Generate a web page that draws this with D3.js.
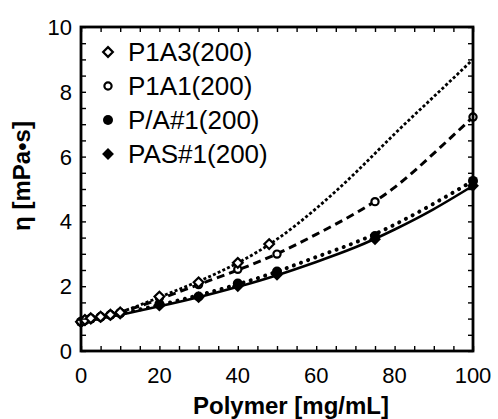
<!DOCTYPE html>
<html><head><meta charset="utf-8">
<script src="https://cdn.jsdelivr.net/npm/d3@7"></script>
<style>body{margin:0;background:#fff}svg{display:block}text{font-family:Arial,"Liberation Sans",sans-serif}</style>
</head><body><svg id="c" width="498" height="419"></svg>
<script>
// ---- data ----
const xTickLabels = [0, 20, 40, 60, 80, 100];
const yTickLabels = [0, 2, 4, 6, 8, 10];
const seriesNames = ["P1A3(200)", "P1A1(200)", "P/A#1(200)", "PAS#1(200)"];

const p1a3X = [0, 1, 2.5, 5, 7.5, 10, 20, 30, 40, 48];
const p1a3Y = [0.9, 0.96, 1.01, 1.06, 1.12, 1.19, 1.68, 2.12, 2.72, 3.3];
const p1a1X = [0, 1, 2.5, 5, 7.5, 10, 20, 30, 40, 50, 75, 100];
const p1a1Y = [0.9, 0.95, 1.0, 1.06, 1.12, 1.18, 1.65, 2.05, 2.52, 2.99, 4.61, 7.22];
const paX = [0, 1, 2.5, 5, 7.5, 10, 20, 30, 40, 50, 75, 100];
const paY = [0.9, 0.95, 1.0, 1.05, 1.11, 1.17, 1.45, 1.68, 2.08, 2.45, 3.55, 5.25];
const pasX = [0, 1, 2.5, 5, 7.5, 10, 20, 30, 40, 50, 75, 100];
const pasY = [0.9, 0.94, 0.99, 1.04, 1.1, 1.15, 1.4, 1.66, 2.0, 2.35, 3.45, 5.1];

// fitted trend curves
const fitX = [0, 10, 20, 30, 40, 50, 60, 70, 80, 90, 100];
const fitP1A3 = [0.9, 1.2, 1.66, 2.15, 2.72, 3.45, 4.4, 5.5, 6.7, 7.85, 9.0];
const fitP1A1 = [0.9, 1.2, 1.6, 2.05, 2.5, 3.0, 3.6, 4.25, 5.05, 6.1, 7.22];
const fitPA = [0.9, 1.15, 1.42, 1.72, 2.06, 2.45, 2.9, 3.35, 3.9, 4.55, 5.25];
const fitPAS = [0.9, 1.12, 1.38, 1.66, 1.98, 2.34, 2.75, 3.2, 3.75, 4.38, 5.1];

// ---- drawing ----
const svg = d3.select("#c");
const L = 81, R = 473, T = 27, B = 351;
const x = d3.scaleLinear().domain([0, 100]).range([L, R]);
const y = d3.scaleLinear().domain([0, 10]).range([B, T]);
const FONT = 22;

const zip = (a, b) => a.map((v, i) => [v, b[i]]);
const line = d3.line().x(d => x(d[0])).y(d => y(d[1])).curve(d3.curveNatural);

const styles = [
  {dash: "3,2.2", w: 2.8, cap: "butt", fit: fitP1A3},
  {dash: "8,5", w: 3, cap: "butt", fit: fitP1A1},
  {dash: "0.1,7.5", w: 4, cap: "round", fit: fitPA},
  {dash: null, w: 2.6, cap: "butt", fit: fitPAS}
];
styles.forEach(s => {
  svg.append("path").attr("d", line(zip(fitX, s.fit)))
    .attr("fill", "none").attr("stroke", "#000").attr("stroke-width", s.w)
    .attr("stroke-linecap", s.cap)
    .attr("stroke-dasharray", s.dash);
});

function marker(g, kind) {
  if (kind === 0) g.append("path").attr("d", d3.symbol(d3.symbolDiamond2, 60)())
      .attr("fill", "#fff").attr("stroke", "#000").attr("stroke-width", 2.2);
  if (kind === 1) g.append("circle").attr("r", 3.6)
      .attr("fill", "#fff").attr("stroke", "#000").attr("stroke-width", 2.2);
  if (kind === 2) g.append("circle").attr("r", 5).attr("fill", "#000");
  if (kind === 3) g.append("path").attr("d", d3.symbol(d3.symbolDiamond2, 90)()).attr("fill", "#000");
}
const pts = [zip(pasX, pasY), zip(paX, paY), zip(p1a1X, p1a1Y), zip(p1a3X, p1a3Y)];
const kinds = [3, 2, 1, 0];
pts.forEach((arr, i) => {
  svg.append("g").selectAll("g").data(arr).join("g")
    .attr("transform", d => `translate(${x(d[0])},${y(d[1])})`)
    .each(function () { marker(d3.select(this), kinds[i]); });
});

// axes (inward ticks on all sides)
const xt = d3.range(0, 101, 5), yt = d3.range(0, 10.01, 0.5);
const ax = [
  [d3.axisBottom(x).tickValues(xt).tickSize(-5).tickFormat(""), `translate(0,${B})`],
  [d3.axisTop(x).tickValues(xt).tickSize(-5).tickFormat(""), `translate(0,${T})`],
  [d3.axisLeft(y).tickValues(yt).tickSize(-5).tickFormat(""), `translate(${L},0)`],
  [d3.axisRight(y).tickValues(yt).tickSize(-5).tickFormat(""), `translate(${R},0)`]
];
ax.forEach(([a, t]) => {
  const g = svg.append("g").attr("transform", t).call(a);
  g.select(".domain").remove();
  g.selectAll("line").attr("stroke", "#000").attr("stroke-width", 1.4);
});
svg.append("rect").attr("x", L).attr("y", T).attr("width", R - L).attr("height", B - T)
  .attr("fill", "none").attr("stroke", "#000").attr("stroke-width", 2.8);

svg.append("g").selectAll("text").data(xTickLabels).join("text")
  .attr("x", d => x(d)).attr("y", B + 32).attr("text-anchor", "middle")
  .attr("font-size", FONT).text(d => d);
svg.append("g").selectAll("text").data(yTickLabels).join("text")
  .attr("x", L - 9).attr("y", d => y(d) + 8).attr("text-anchor", "end")
  .attr("font-size", FONT).text(d => d);

svg.append("text").attr("x", 291).attr("y", 414).attr("text-anchor", "middle")
  .attr("font-size", 24).attr("font-weight", "bold").text("Polymer [mg/mL]");
svg.append("text").attr("transform", "translate(30,176) rotate(-90)").attr("text-anchor", "middle")
  .attr("font-size", 24).attr("font-weight", "bold").text("η [mPa•s]");

// legend
const lg = svg.append("g");
seriesNames.forEach((n, i) => {
  const yy = 52 + i * 34;
  const g = lg.append("g").attr("transform", `translate(108,${yy})`);
  marker(g, i);
  lg.append("text").attr("x", 128).attr("y", yy + 9).attr("font-size", 26).text(n);
});
</script></body></html>
